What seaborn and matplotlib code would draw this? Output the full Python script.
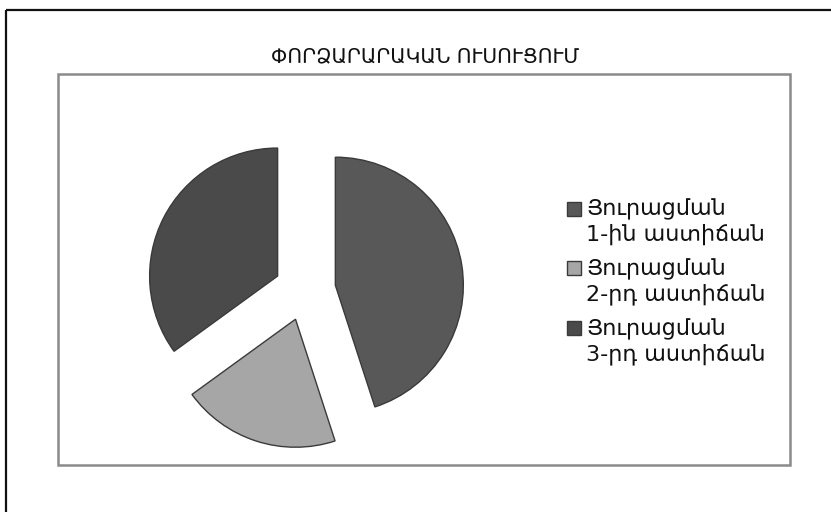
import matplotlib
matplotlib.use("Agg")
import matplotlib.pyplot as plt
import seaborn as sns
from matplotlib.patches import Rectangle
from matplotlib.legend_handler import HandlerPatch

# Chart data
title = "ՓՈՐՁԱՐԱՐԱԿԱՆ ՈՒՍՈՒՑՈՒՄ"
labels = ["Յուրացման\n1-ին աստիճան", "Յուրացման\n2-րդ աստիճան", "Յուրացման\n3-րդ աստիճան"]
values = [45, 20, 35]
colors = ["#585858", "#a6a6a6", "#4a4a4a"]

sns.set_theme(style="white")
plt.rcParams["font.family"] = ["DejaVu Sans"]

W, H = 831, 512
fig = plt.figure(figsize=(W / 100, H / 100), dpi=100)

# outer black frame (runs past the right and bottom edges)
fig.patches.append(Rectangle((6 / W, 1 - 10 / H), 1.0, -1.0, transform=fig.transFigure,
                             fill=False, edgecolor="#111111", linewidth=1.6, zorder=0))
# inner gray plot area
fig.patches.append(Rectangle((58 / W, 1 - 465 / H), (790 - 58) / W, (465 - 74) / H,
                             transform=fig.transFigure, fill=False, edgecolor="#8a8a8a",
                             linewidth=1.8, zorder=0))

fig.text(425 / W, 1 - 57 / H, title, ha="center", va="center", fontsize=14.5, color="#111111")

# pie axes
cx, cy, half = 305, 290, 160
ax = fig.add_axes([(cx - half) / W, 1 - (cy + half) / H, 2 * half / W, 2 * half / H])
wedges, _ = ax.pie(values, colors=colors, startangle=90, counterclock=False,
                   explode=[0.24, 0.24, 0.24], radius=1.0,
                   wedgeprops=dict(edgecolor="#3a3a3a", linewidth=1.0))
ax.set_xlim(-1.25, 1.25)
ax.set_ylim(-1.25, 1.25)
ax.set_aspect("equal")
ax.axis("off")


# small square marker aligned with the first text line
def top_square(legend, orig_handle, xdescent, ydescent, width, height, fontsize):
    s = 10
    return Rectangle((-xdescent, -ydescent + height - s + 2), s, s)


leg = fig.legend(wedges, labels, loc="upper left", bbox_to_anchor=(547 / W, 1 - 179 / H),
                 frameon=False, fontsize=16, handlelength=0.55, handleheight=2.2,
                 handletextpad=0.3, labelspacing=0.6,
                 handler_map={wedges[0].__class__: HandlerPatch(patch_func=top_square)})
for t in leg.get_texts():
    t.set_color("#111111")

fig.savefig("out.png", dpi=100)
